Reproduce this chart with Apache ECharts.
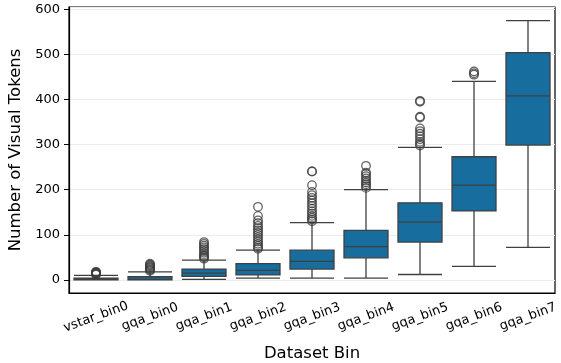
<!DOCTYPE html>
<html>
<head>
<meta charset="utf-8">
<script src="https://cdn.jsdelivr.net/npm/echarts@6/dist/echarts.min.js"></script>
<style>
  html, body { margin: 0; padding: 0; background: #fff; }
  #chart { width: 561px; height: 363px; }
</style>
</head>
<body>
<div id="chart"></div>
<script>
// dataset bins
const bins = ['vstar_bin0', 'gqa_bin0', 'gqa_bin1', 'gqa_bin2', 'gqa_bin3', 'gqa_bin4', 'gqa_bin5', 'gqa_bin6', 'gqa_bin7'];

// [lower whisker, Q1, median, Q3, upper whisker]
const boxStats = [
  [0, 0, 1, 4, 10],
  [0, 0, 1, 7, 18],
  [1, 8, 15, 24, 44],
  [4, 11, 21, 36, 66],
  [4, 24, 41, 66, 127],
  [4, 49, 74, 110, 200],
  [12, 84, 128, 171, 294],
  [30, 153, 210, 273, 440],
  [72, 299, 408, 504, 575]
];

// outlier values per bin
const outliers = [
  [12, 13, 14, 15, 16, 17, 18],
  [20, 22, 24, 26, 28, 30, 32, 34, 36],
  [47, 50, 53, 56, 60, 64, 68, 72, 76, 80, 84],
  [69, 72, 76, 80, 85, 90, 95, 100, 105, 110, 115, 120, 126, 132, 142, 162],
  [130, 134, 138, 142, 147, 152, 158, 164, 170, 176, 182, 188, 195, 210, 240, 241],
  [204, 208, 212, 216, 220, 225, 230, 235, 238, 253],
  [298, 302, 306, 312, 318, 324, 330, 336, 360, 362, 395, 397],
  [455, 458, 462],
  []
];

const outlierPts = [];
outliers.forEach(function (vals, i) {
  vals.forEach(function (v) { outlierPts.push([bins[i], v]); });
});

const chart = echarts.init(document.getElementById('chart'));
chart.setOption({
  animation: false,
  textStyle: { fontFamily: 'DejaVu Sans' },
  grid: {
    left: 69, right: 6, top: 7, bottom: 70,
    outerBoundsMode: 'none',
    show: true, borderColor: '#000', borderWidth: 1.2
  },
  xAxis: {
    type: 'category',
    data: bins,
    name: 'Dataset Bin',
    nameLocation: 'middle',
    nameGap: 52,
    nameTextStyle: { fontSize: 16.5, color: '#000' },
    axisLine: { onZero: false, lineStyle: { color: '#000', width: 1.2 } },
    axisTick: { alignWithLabel: true, length: 5, lineStyle: { color: '#000' } },
    axisLabel: { rotate: 20, align: 'center', verticalAlign: 'middle', fontSize: 13, color: '#000', margin: 24 },
    splitLine: { show: false }
  },
  yAxis: {
    type: 'value',
    min: -29,
    max: 605,
    splitNumber: 6,
    name: 'Number of Visual Tokens',
    nameLocation: 'middle',
    nameGap: 37,
    nameTextStyle: { fontSize: 16.5, color: '#000' },
    axisLine: { show: true, lineStyle: { color: '#000', width: 1.2 } },
    axisTick: { show: true, length: 5, lineStyle: { color: '#000' } },
    axisLabel: { fontSize: 13, color: '#000', margin: 9, showMinLabel: false, showMaxLabel: false },
    splitLine: { show: true, lineStyle: { color: '#ebebeb', width: 1 } }
  },
  series: [
    {
      type: 'boxplot',
      data: boxStats,
      boxWidth: [44, 44],
      itemStyle: { color: '#176d9e', borderColor: '#404040', borderWidth: 1.3 },
      z: 3
    },
    {
      type: 'scatter',
      data: outlierPts,
      symbol: 'circle',
      symbolSize: 8.5,
      itemStyle: { color: 'rgba(255,255,255,0)', borderColor: '#3d3d3d', borderWidth: 1.3 },
      z: 4
    }
  ]
});
</script>
</body>
</html>
